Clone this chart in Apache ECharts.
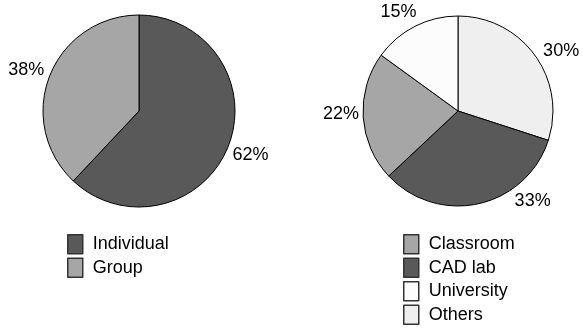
<!DOCTYPE html>
<html>
<head>
<meta charset="utf-8">
<script src="https://cdn.jsdelivr.net/npm/echarts@6/dist/echarts.min.js"></script>
<style>
  html, body { margin: 0; padding: 0; background: #fff; }
  #chart { width: 583px; height: 329px; }
</style>
</head>
<body>
<div id="chart"></div>
<script>
// Working mode split (left pie), slices listed clockwise from 12 o'clock
const modeNames = ['Individual', 'Group'];
const modeValues = [62, 38];

// Working place split (right pie), slices listed clockwise from 12 o'clock
const placeNames = ['Others', 'CAD lab', 'Classroom', 'University'];
const placeValues = [30, 33, 22, 15];

// Legend order for the right pie
const placeLegend = ['Classroom', 'CAD lab', 'University', 'Others'];

const FONT = 'Liberation Sans, Arial, sans-serif';
const shades = {
  'Individual': '#595959',
  'Group': '#a6a6a6',
  'Others': '#efefef',
  'CAD lab': '#595959',
  'Classroom': '#a6a6a6',
  'University': '#fcfcfc'
};

// Places each value label just outside the rim, along the slice's mid angle,
// so that the nearest edge of the label box sits `gap` px beyond the circle.
function rimLabels(values, cx, cy, r, gap, angleNudge) {
  const total = values.reduce((a, b) => a + b, 0);
  return function (params) {
    const i = params.dataIndex;
    let before = 0;
    for (let k = 0; k < i; k++) before += values[k];
    let ang = (before + values[i] / 2) / total * Math.PI * 2;
    if (angleNudge && angleNudge[i]) ang += angleNudge[i] * Math.PI / 180;
    const ux = Math.sin(ang), uy = -Math.cos(ang);
    const w = params.labelRect.width / 2, h = params.labelRect.height / 2;
    let lo = 0, hi = r + 300;
    for (let n = 0; n < 50; n++) {
      const d = (lo + hi) / 2;
      const px = Math.max(0, d * Math.abs(ux) - w);
      const py = Math.max(0, d * Math.abs(uy) - h);
      if (Math.hypot(px, py) < r + gap) lo = d; else hi = d;
    }
    const d = (lo + hi) / 2;
    return { x: cx + ux * d, y: cy + uy * d, align: 'center', verticalAlign: 'middle' };
  };
}

function pieSeries(names, values, cx, cy, r, nudge) {
  return {
    type: 'pie',
    center: [cx, cy],
    radius: r,
    startAngle: 90,
    clockwise: true,
    avoidLabelOverlap: false,
    silent: true,
    data: names.map((n, i) => ({
      name: n,
      value: values[i],
      itemStyle: { color: shades[n] }
    })),
    itemStyle: { borderColor: '#000', borderWidth: 1 },
    label: {
      show: true,
      position: 'outside',
      formatter: '{c}%',
      fontSize: 18,
      color: '#000',
      fontFamily: FONT
    },
    labelLine: { show: false },
    labelLayout: rimLabels(values, cx, cy, r, 4, nudge),
    emphasis: { disabled: true }
  };
}

function legendBlock(names, left) {
  return {
    data: names,
    orient: 'vertical',
    left: left,
    top: 234,
    height: 95,
    padding: 0,
    icon: 'rect',
    itemWidth: 15,
    itemHeight: 19,
    itemGap: 3,
    selectedMode: false,
    itemStyle: { borderColor: '#333', borderWidth: 1.5 },
    textStyle: { fontSize: 18, color: '#000', fontFamily: FONT, padding: [0, 0, 0, 5] }
  };
}

const chart = echarts.init(document.getElementById('chart'), null, { renderer: 'canvas' });
chart.setOption({
  animation: false,
  backgroundColor: '#fff',
  legend: [legendBlock(modeNames, 67), legendBlock(placeLegend, 403)],
  series: [
    pieSeries(modeNames, modeValues, 139, 111, 96, [0, -1.5]),
    pieSeries(placeNames, placeValues, 458, 111, 95, [6, -27, 2, -4])
  ]
});
</script>
</body>
</html>
